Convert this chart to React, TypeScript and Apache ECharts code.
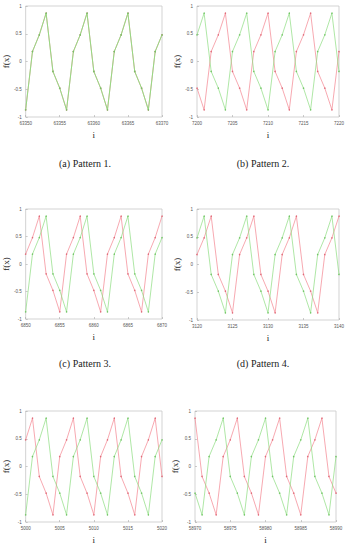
import React, { useEffect, useRef } from "react";
import * as echarts from "echarts";

// x-axis starts (i) for each pattern panel
const xStarts = [63350, 7200, 6850, 3120, 5000, 58970];
const yTicks = [-1, -0.5, 0, 0.5, 1];
const captions = ["(a) Pattern 1.", "(b) Pattern 2.", "(c) Pattern 3.", "(d) Pattern 4.", "(e) Pattern 5.", "(f) Pattern 6."];

// Pattern 1
const red1 = [-0.87, 0.18, 0.48, 0.87, -0.18, -0.48, -0.87, 0.18, 0.48, 0.87, -0.18, -0.48, -0.87, 0.18, 0.48, 0.87, -0.18, -0.48, -0.87, 0.18, 0.48];
const green1 = [-0.87, 0.18, 0.48, 0.87, -0.18, -0.48, -0.87, 0.18, 0.48, 0.87, -0.18, -0.48, -0.87, 0.18, 0.48, 0.87, -0.18, -0.48, -0.87, 0.18, 0.48];
// Pattern 2
const red2 = [-0.48, -0.87, 0.18, 0.48, 0.87, -0.18, -0.48, -0.87, 0.18, 0.48, 0.87, -0.18, -0.48, -0.87, 0.18, 0.48, 0.87, -0.18, -0.48, -0.87, 0.18];
const green2 = [0.48, 0.87, -0.18, -0.48, -0.87, 0.18, 0.48, 0.87, -0.18, -0.48, -0.87, 0.18, 0.48, 0.87, -0.18, -0.48, -0.87, 0.18, 0.48, 0.87, -0.18];
// Pattern 3
const red3 = [0.18, 0.48, 0.87, -0.18, -0.48, -0.87, 0.18, 0.48, 0.87, -0.18, -0.48, -0.87, 0.18, 0.48, 0.87, -0.18, -0.48, -0.87, 0.18, 0.48, 0.87];
const green3 = [-0.87, 0.18, 0.48, 0.87, -0.18, -0.48, -0.87, 0.18, 0.48, 0.87, -0.18, -0.48, -0.87, 0.18, 0.48, 0.87, -0.18, -0.48, -0.87, 0.18, 0.48];
// Pattern 4
const red4 = [0.18, 0.48, 0.87, -0.18, -0.48, -0.87, 0.18, 0.48, 0.87, -0.18, -0.48, -0.87, 0.18, 0.48, 0.87, -0.18, -0.48, -0.87, 0.18, 0.48, 0.87];
const green4 = [0.48, 0.87, -0.18, -0.48, -0.87, 0.18, 0.48, 0.87, -0.18, -0.48, -0.87, 0.18, 0.48, 0.87, -0.18, -0.48, -0.87, 0.18, 0.48, 0.87, -0.18];
// Pattern 5
const red5 = [0.48, 0.87, -0.18, -0.48, -0.87, 0.18, 0.48, 0.87, -0.18, -0.48, -0.87, 0.18, 0.48, 0.87, -0.18, -0.48, -0.87, 0.18, 0.48, 0.87, -0.18];
const green5 = [-0.87, 0.18, 0.48, 0.87, -0.18, -0.48, -0.87, 0.18, 0.48, 0.87, -0.18, -0.48, -0.87, 0.18, 0.48, 0.87, -0.18, -0.48, -0.87, 0.18, 0.48];
// Pattern 6
const red6 = [0.87, -0.18, -0.48, -0.87, 0.18, 0.48, 0.87, -0.18, -0.48, -0.87, 0.18, 0.48, 0.87, -0.18, -0.48, -0.87, 0.18, 0.48, 0.87, -0.18, -0.48];
const green6 = [-0.48, -0.87, 0.18, 0.48, 0.87, -0.18, -0.48, -0.87, 0.18, 0.48, 0.87, -0.18, -0.48, -0.87, 0.18, 0.48, 0.87, -0.18, -0.48, -0.87, 0.18];

const reds = [red1, red2, red3, red4, red5, red6];
const greens = [green1, green2, green3, green4, green5, green6];

const grids = [
  { left: 19, top: 6, width: 143, height: 111 },
  { left: 197, top: 6, width: 143, height: 111 },
  { left: 19, top: 209, width: 143, height: 110 },
  { left: 197, top: 209, width: 143, height: 111 },
  { left: 19, top: 411, width: 143, height: 111 },
  { left: 195, top: 411, width: 141, height: 111 },
];
const captionPos = [
  { x: 85, y: 163 },
  { x: 263, y: 163 },
  { x: 85, y: 363 },
  { x: 263, y: 363 },
];

const RED = "#f4848f";
const GREEN = "#8ddd80";
const SERIF = "'Liberation Serif', 'DejaVu Serif', serif";

export default function App() {
  const ref = useRef<HTMLDivElement>(null);
  useEffect(() => {
    document.body.style.margin = "0";
    const chart = echarts.init(ref.current!, null, { renderer: "svg" });
    const xAxis: any[] = [];
    const yAxis: any[] = [];
    const series: any[] = [];
    grids.forEach((g, k) => {
      const start = xStarts[k];
      xAxis.push({
        gridIndex: k,
        type: "value",
        min: start,
        max: start + 20,
        interval: 5,
        name: "i",
        nameLocation: "middle",
        nameGap: 13,
        nameTextStyle: { fontFamily: SERIF, fontSize: 9, color: "#222" },
        axisLine: { show: false, onZero: false },
        axisTick: { show: true, inside: true, length: 2, lineStyle: { color: "#aaa", width: 0.6 } },
        axisLabel: { fontSize: 4.5, color: "#555", margin: 4, formatter: (v: number) => String(v) },
        splitLine: { show: false },
      });
      yAxis.push({
        gridIndex: k,
        type: "value",
        min: yTicks[0],
        max: yTicks[yTicks.length - 1],
        interval: 0.5,
        name: "f(x)",
        nameLocation: "middle",
        nameGap: 13,
        nameRotate: 90,
        nameTextStyle: { fontFamily: SERIF, fontSize: 9, color: "#222" },
        axisLine: { show: false, onZero: false },
        axisTick: { show: true, inside: true, length: 2, lineStyle: { color: "#aaa", width: 0.6 } },
        axisLabel: { fontSize: 4.5, color: "#555", margin: 4 },
        splitLine: { show: false },
      });
      const xs = reds[k].map((_, j) => start + j);
      series.push({
        type: "line",
        xAxisIndex: k,
        yAxisIndex: k,
        data: reds[k].map((v, j) => [xs[j], v]),
        symbol: "circle",
        symbolSize: 1.5,
        showSymbol: true,
        itemStyle: { color: "#e06a78" },
        lineStyle: { color: RED, width: 0.7 },
        silent: true,
        z: 2,
      });
      series.push({
        type: "line",
        xAxisIndex: k,
        yAxisIndex: k,
        data: greens[k].map((v, j) => [xs[j], v]),
        symbol: "circle",
        symbolSize: 1.5,
        showSymbol: true,
        itemStyle: { color: "#72c466" },
        lineStyle: { color: GREEN, width: k === 0 ? 0.95 : 0.7 },
        silent: true,
        z: 3,
      });
    });
    chart.setOption({
      animation: false,
      backgroundColor: "#fff",
      grid: grids.map((g) => ({ ...g, show: true, borderColor: "#c8c8c8", borderWidth: 0.8, backgroundColor: "transparent" })),
      xAxis,
      yAxis,
      series,
      graphic: captionPos.map((p, k) => ({
        type: "text",
        x: p.x,
        y: p.y,
        style: {
          text: captions[k],
          fontFamily: SERIF,
          fontSize: 10,
          fill: "#222",
          textAlign: "center",
          textVerticalAlign: "middle",
        },
      })),
    });
    return () => chart.dispose();
  }, []);
  return <div ref={ref} style={{ position: "absolute", left: 0, top: 0, width: 347, height: 559 }} />;
}
